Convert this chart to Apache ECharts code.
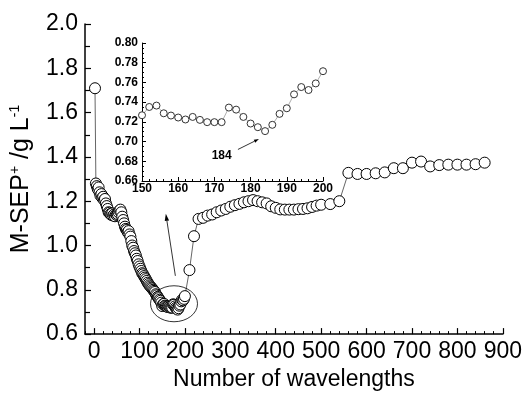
<!DOCTYPE html>
<html><head><meta charset="utf-8">
<script src="https://cdn.jsdelivr.net/npm/echarts@6/dist/echarts.min.js"></script>
<style>html,body{margin:0;padding:0;background:#fff}#c{width:525px;height:396px}</style>
</head><body><div id="c"></div>
<script>
// ---- data ----
const earlyX = [2,4,6,8,10,12,14,16,18,20,22,24,26,28,30,32,34,36,38,40,42,44,46,48,50,52,54,56,58,60,62,64,66,68,70,72,74,76,78,80,82,84,86,88,90,92,94,96,98,100,102,104,106,108,110,112,114,116,118,120,122,124,126,128,130,132,134,136,138,140,142,144,146,148];
const earlyY = [1.71,1.280,1.268,1.255,1.262,1.240,1.225,1.232,1.215,1.220,1.205,1.210,1.190,1.178,1.165,1.150,1.148,1.142,1.138,1.145,1.135,1.140,1.132,1.140,1.138,1.142,1.150,1.158,1.162,1.150,1.130,1.115,1.100,1.085,1.075,1.070,1.060,1.065,1.050,1.040,1.020,1.000,0.990,0.975,0.965,0.955,0.940,0.930,0.915,0.905,0.895,0.885,0.875,0.870,0.862,0.855,0.848,0.840,0.832,0.826,0.820,0.815,0.810,0.806,0.800,0.795,0.790,0.780,0.775,0.768,0.762,0.755,0.750,0.742];
const insetX = [150,152,154,156,158,160,162,164,166,168,170,172,174,176,178,180,182,184,186,188,190,192,194,196,198,200];
const insetY = [0.7267,0.7351,0.7365,0.7287,0.7264,0.7244,0.7224,0.7250,0.7220,0.7197,0.7197,0.7197,0.7345,0.7324,0.7250,0.7183,0.7146,0.7106,0.7170,0.7281,0.7338,0.7479,0.7553,0.7523,0.7590,0.7714];
const lateX = [210,220,230,240,250,260,270,280,290,300,310,320,330,340,350,360,370,380,390,400,410,420,430,440,450,460,470,480,490,500,520,540,560,580,600,620,640,660,680,700,720,740,760,780,800,820,840,860];
const lateY = [0.889,1.042,1.120,1.125,1.135,1.140,1.150,1.158,1.165,1.175,1.182,1.188,1.195,1.200,1.205,1.200,1.195,1.190,1.177,1.170,1.163,1.162,1.162,1.162,1.164,1.165,1.168,1.174,1.180,1.184,1.187,1.200,1.328,1.323,1.323,1.326,1.330,1.349,1.349,1.374,1.379,1.357,1.363,1.365,1.365,1.365,1.367,1.374];
const xTickLabels = [0,100,200,300,400,500,600,700,800,900];
const yTickLabels = [0.6,0.8,1.0,1.2,1.4,1.6,1.8,2.0];
const insetXTicks = [150,160,170,180,190,200];
const insetYTicks = [0.66,0.68,0.70,0.72,0.74,0.76,0.78,0.80];
const insetNote = '184';
// annotation anchors (data coordinates)
const ellipseAt = [176, 0.737];
const mainArrow = [[179, 0.863],[158, 1.143]];
const noteAt = [172, 0.686];
const insetArrow = [[176.5, 0.692],[182.3, 0.7026]];

const mainData = earlyX.map((x,i)=>[x,earlyY[i]])
  .concat(insetX.map((x,i)=>[x,insetY[i]]))
  .concat(lateX.map((x,i)=>[x,lateY[i]]));
const insetData = insetX.map((x,i)=>[x,insetY[i]]);

const F = 'Liberation Sans, Arial, sans-serif';
const chart = echarts.init(document.getElementById('c'), null, {renderer:'canvas'});
const blk = {color:'#000', width:1.5};
chart.setOption({
  animation:false,
  backgroundColor:'#fff',
  grid:[
    {left:83, top:24, width:421, height:319},
    {left:142, top:43, width:181, height:138}
  ],
  xAxis:[
    {gridIndex:0, type:'value', min:-20, max:900, position:'bottom',
     axisLine:{show:true, onZero:false, lineStyle:blk},
     axisTick:{show:true, inside:true, length:6, customValues:xTickLabels, lineStyle:{color:'#000', width:1.2}},
     axisLabel:{customValues:xTickLabels, fontSize:23, color:'#000', fontFamily:F, margin:6},
     splitLine:{show:false},
     name:'Number of wavelengths', nameLocation:'middle', nameGap:30,
     nameTextStyle:{fontSize:23, color:'#000', fontFamily:F}},
    {gridIndex:0, type:'value', min:-20, max:900, interval:20, position:'bottom',
     axisLine:{show:false, onZero:false},
     axisTick:{show:true, inside:true, length:3, lineStyle:{color:'#000', width:1}},
     axisLabel:{show:false}, splitLine:{show:false}},
    {gridIndex:1, type:'value', min:150, max:200, interval:10, position:'bottom',
     axisLine:{show:true, onZero:false, lineStyle:{color:'#000', width:1}},
     axisTick:{show:true, inside:true, length:4, lineStyle:{color:'#000'}},
     minorTick:{show:true, splitNumber:5, length:2, lineStyle:{color:'#000'}},
     axisLabel:{fontSize:12, fontWeight:'bold', color:'#000', fontFamily:F, margin:2,
       formatter:v=>insetXTicks.includes(v)?String(v):''},
     splitLine:{show:false}}
  ],
  yAxis:[
    {gridIndex:0, type:'value', min:0.6, max:2.0, interval:0.2,
     axisLine:{show:true, onZero:false, lineStyle:blk},
     axisTick:{show:true, inside:true, length:6, lineStyle:{color:'#000', width:1.2}},
     minorTick:{show:true, splitNumber:2, length:5, lineStyle:{color:'#000', width:1.2}},
     axisLabel:{fontSize:23, color:'#000', fontFamily:F, margin:7,
       formatter:v=>{const m=yTickLabels.find(t=>Math.abs(t-v)<1e-6);return m===undefined?'':m.toFixed(1);}},
     splitLine:{show:false},
     name:'{a|M-SEP}{s|+}{a| /g L}{s|-1}', nameLocation:'middle', nameGap:50,
     nameTextStyle:{rich:{
       a:{fontSize:25, color:'#000', fontFamily:F, lineHeight:27},
       s:{fontSize:14, color:'#000', fontFamily:F, verticalAlign:'top', lineHeight:27}}}},
    {gridIndex:1, type:'value', min:0.66, max:0.80, interval:0.02,
     axisLine:{show:true, onZero:false, lineStyle:{color:'#000', width:1}},
     axisTick:{show:true, inside:true, length:4, lineStyle:{color:'#000'}},
     minorTick:{show:true, splitNumber:4, length:2, lineStyle:{color:'#000'}},
     axisLabel:{fontSize:12, fontWeight:'bold', color:'#000', fontFamily:F, margin:4,
       formatter:v=>{const m=insetYTicks.find(t=>Math.abs(t-v)<1e-6);return m===undefined?'':m.toFixed(2);}},
     splitLine:{show:false}}
  ],
  series:[
    {type:'line', xAxisIndex:0, yAxisIndex:0, data:mainData, symbol:'circle', symbolSize:11,
     showAllSymbol:true, itemStyle:{color:'#fff', borderColor:'#000', borderWidth:1},
     lineStyle:{color:'#666', width:1}, emphasis:{disabled:true}},
    {type:'line', xAxisIndex:2, yAxisIndex:1, data:insetData, symbol:'circle', symbolSize:7,
     showAllSymbol:true, itemStyle:{color:'#fff', borderColor:'#333', borderWidth:1},
     lineStyle:{color:'#999', width:0.8}, emphasis:{disabled:true}}
  ]
});

function px(si, p){ return chart.convertToPixel({seriesIndex:si}, p); }
function arrow(a, b, head, w){
  const dx=b[0]-a[0], dy=b[1]-a[1], L=Math.hypot(dx,dy), ux=dx/L, uy=dy/L;
  const bx=b[0]-ux*head, by=b[1]-uy*head;
  return [
    {type:'line', shape:{x1:a[0],y1:a[1],x2:bx,y2:by}, style:{stroke:'#000', lineWidth:0.8}},
    {type:'polygon', shape:{points:[[b[0],b[1]],[bx-uy*w,by+ux*w],[bx+uy*w,by-ux*w]]}, style:{fill:'#000'}}
  ];
}
const ec = px(0, ellipseAt);
const ma = arrow(px(0, mainArrow[0]), px(0, mainArrow[1]), 7, 2.2);
const ia = arrow(px(1, insetArrow[0]), px(1, insetArrow[1]), 5, 1.6);
const nt = px(1, noteAt);
chart.setOption({graphic:[
  {type:'ellipse', shape:{cx:ec[0], cy:ec[1], rx:23.5, ry:18}, style:{fill:'none', stroke:'#000', lineWidth:0.8}, z:10},
  ...ma, ...ia,
  {type:'text', x:nt[0], y:nt[1], style:{text:insetNote, font:'bold 12px '+F, fill:'#000', align:'center', verticalAlign:'middle'}}
]});
</script></body></html>
